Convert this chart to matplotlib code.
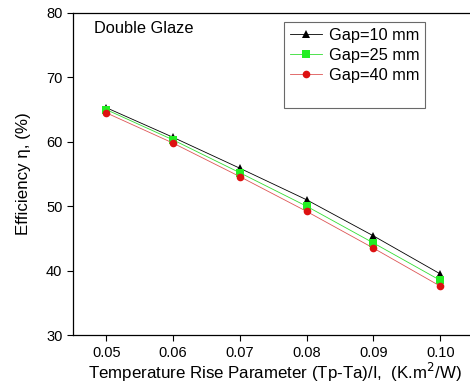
import matplotlib
matplotlib.use("Agg")
import matplotlib.pyplot as plt
from matplotlib.lines import Line2D

plt.rcParams["font.family"] = ["Liberation Sans", "DejaVu Sans"]

# temperature rise parameter (K.m2/W)
x_vals = [0.05, 0.06, 0.07, 0.08, 0.09, 0.10]
# efficiency (%) for each air gap
gap10 = [65.3, 60.7, 55.9, 51.0, 45.4, 39.5]
gap25 = [65.0, 60.3, 55.2, 50.0, 44.3, 38.5]
gap40 = [64.5, 59.8, 54.6, 49.2, 43.5, 37.6]

x_ticks = [0.05, 0.06, 0.07, 0.08, 0.09, 0.10]
x_tick_labels = ["0.05", "0.06", "0.07", "0.08", "0.09", "0.10"]
y_ticks = [30, 40, 50, 60, 70, 80]

fig = plt.figure(figsize=(4.7, 3.92), dpi=100)
ax = fig.add_axes([0.155, 0.145, 0.86, 0.822])

ax.plot(x_vals, gap10, color="black", lw=0.6, marker="^", ms=6,
        markeredgewidth=0, label="Gap=10 mm")
ax.plot(x_vals, gap25, color="#33dd33", lw=0.6, marker="s", ms=5.5,
        markerfacecolor="#22ee22", markeredgewidth=0, label="Gap=25 mm")
ax.plot(x_vals, gap40, color="#dd5555", lw=0.6, marker="o", ms=5.5,
        markerfacecolor="#dd1111", markeredgewidth=0, label="Gap=40 mm")

ax.set_xlim(0.045, 0.1055)
ax.set_ylim(30, 80)
ax.set_xticks(x_ticks)
ax.set_xticklabels(x_tick_labels)
ax.set_yticks(y_ticks)
ax.tick_params(direction="out", length=4, width=0.8, labelsize=10.5, top=False, right=False)
ax.spines["right"].set_visible(False)
for s in ax.spines.values():
    s.set_linewidth(0.9)

ax.set_xlabel("Temperature Rise Parameter (Tp-Ta)/I,  (K.m$^{2}$/W)", fontsize=12.2, labelpad=1)
ax.set_ylabel("Efficiency η, (%)", fontsize=12.2, labelpad=11)

ax.text(0.0482, 77.6, "Double Glaze", fontsize=11.8, va="center")

# blank entry gives the empty space at the bottom of the legend box
handles, labels = ax.get_legend_handles_labels()
handles.append(Line2D([], [], color="none"))
labels.append(" ")
leg = ax.legend(handles, labels, loc="upper left", bbox_to_anchor=(0.522, 0.972),
                fontsize=11.8, frameon=True, fancybox=False, edgecolor="#444444",
                borderpad=0.35, labelspacing=0.3, handlelength=2.0,
                handletextpad=0.4, borderaxespad=0)
leg.get_frame().set_linewidth(0.8)

fig.savefig("out.png", dpi=100)
